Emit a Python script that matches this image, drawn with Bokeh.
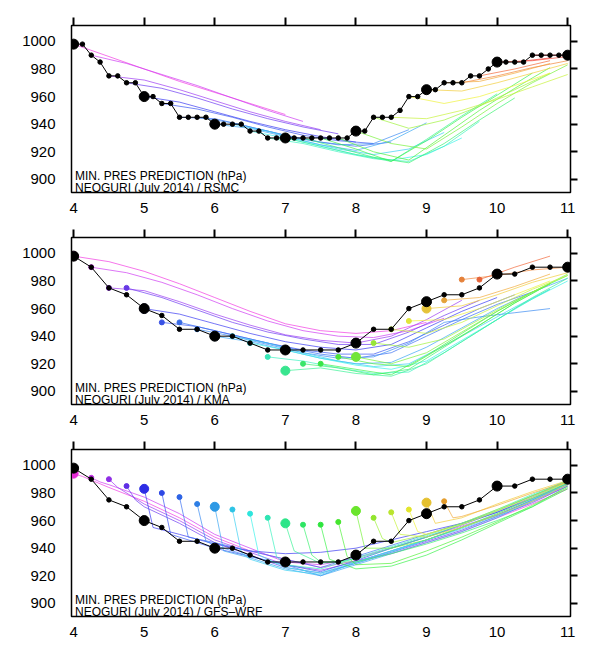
import colorsys
import numpy as np
from bokeh.plotting import figure
from bokeh.layouts import column
from bokeh.models import FixedTicker, LinearAxis, Label, Range1d
from bokeh.embed import file_html
from bokeh.resources import INLINE

# ---------------- data ----------------
x_ticks = [4, 5, 6, 7, 8, 9, 10, 11]
y_ticks = [900, 920, 940, 960, 980, 1000]

# best track, 3-hourly (RSMC)
rsmc_track_t = list(np.arange(4.0, 11.001, 0.125))
rsmc_track_p = [998, 998, 990, 985, 975, 975, 970, 970,
                960, 960, 955, 955, 945, 945, 945, 945,
                940, 940, 940, 940, 935, 935, 930, 930,
                930, 930, 930, 930, 930, 930, 930, 930,
                935, 935, 945, 945, 945, 950, 960, 960,
                965, 965, 970, 970, 970, 975, 975, 980,
                985, 985, 985, 985, 990, 990, 990, 990, 990]

# best track, 6-hourly (KMA / GFS-WRF panels)
track6_t = list(np.arange(4.0, 11.001, 0.25))
track6_p = [998, 990, 975, 970, 960, 955, 945, 945, 940, 940, 935, 930, 930,
            930, 930, 930, 935, 945, 945, 960, 965, 970, 970, 975, 985, 985,
            990, 990, 990]

# RSMC forecasts: init time, values every 12 h
rsmc_init = [4.0, 4.25, 4.5, 4.75, 5.0, 5.25, 5.5, 5.75, 6.0, 6.25, 6.5, 6.75,
             7.0, 7.25, 7.5, 7.75, 8.0, 8.25, 8.5, 8.75, 9.0, 9.25, 9.5, 9.75,
             10.0, 10.25, 10.5]
rsmc_fcst = [
    [998, 989, 980, 971, 963, 955, 947],
    [990, 984, 976, 968, 959, 950, 942],
    [975, 972, 965, 957, 949, 942, 936],
    [970, 966, 959, 951, 944, 938, 933],
    [960, 956, 949, 942, 936, 931, 927],
    [955, 951, 945, 938, 932, 928, 926],
    [945, 944, 938, 932, 927, 924, 927],
    [945, 941, 935, 929, 925, 926, 936],
    [940, 937, 931, 925, 921, 928, 941],
    [940, 935, 928, 922, 918, 922, 934],
    [935, 930, 924, 918, 914, 918, 930],
    [930, 926, 920, 915, 913, 924, 942],
    [930, 924, 918, 913, 929, 946, 962],
    [930, 923, 916, 912, 926, 943, 959],
    [930, 922, 913, 928, 945, 961, 977],
    [930, 920, 914, 932, 950, 966, 981],
    [935, 926, 922, 938, 955, 970, 983],
    [945, 937, 943, 953, 965, 977],
    [945, 944, 950, 958, 967, 976],
    [960, 955, 960, 968, 977],
    [965, 964, 970, 977, 984],
    [970, 971, 977, 984],
    [970, 975, 981, 986],
    [975, 980, 986],
    [985, 986, 989],
    [985, 988],
    [990, 990],
]

# KMA forecasts: init time, values every 12 h
kma_init = [4.0, 4.25, 4.5, 4.75, 5.0, 5.25, 5.5, 5.75, 6.0, 6.25, 6.5, 6.75,
            7.0, 7.25, 7.5, 7.75, 8.0, 8.25, 8.5, 8.75, 9.0, 9.25, 9.5, 9.75]
kma_fcst = [
    [998, 994, 987, 978, 968, 958, 949, 944, 942, 944, 950],
    [990, 986, 979, 970, 960, 951, 944, 940, 939, 944, 953],
    [975, 973, 965, 956, 948, 941, 937, 935, 940, 952, 966],
    [975, 968, 959, 950, 943, 938, 934, 934, 943, 955, 966],
    [960, 956, 949, 942, 936, 932, 930, 934, 946, 958, 968],
    [950, 947, 941, 935, 930, 927, 927, 936, 948, 960, 970],
    [950, 944, 938, 932, 927, 924, 928, 940, 952, 963, 972],
    [945, 940, 934, 928, 924, 925, 935, 950, 954, 957, 960],
    [940, 936, 930, 924, 920, 921, 932, 946, 960, 972, 982],
    [940, 935, 928, 922, 918, 920, 933, 947, 961, 974],
    [935, 930, 924, 919, 916, 922, 937, 952, 967, 980],
    [925, 922, 917, 913, 914, 928, 944, 960, 974],
    [915, 917, 913, 911, 920, 936, 952, 968, 982],
    [920, 917, 912, 916, 932, 948, 964, 978],
    [920, 916, 912, 926, 942, 958, 972, 984],
    [925, 920, 918, 933, 948, 964, 978],
    [925, 920, 928, 943, 958, 972, 985],
    [935, 932, 938, 952, 966, 978],
    [945, 942, 950, 962, 974, 984],
    [951, 952, 960, 970, 980],
    [960, 962, 970, 979, 986],
    [966, 968, 976, 985],
    [981, 984, 988, 990],
    [981, 990, 998],
]

# GFS-WRF forecasts: init time, initial value, value 3 h later, then 12-hourly
gfs_init = [4.0, 4.25, 4.5, 4.75, 5.0, 5.25, 5.5, 5.75, 6.0, 6.25, 6.5, 6.75,
            7.0, 7.25, 7.5, 7.75, 8.0, 8.25, 8.5, 8.75, 9.0, 9.25]
gfs_dot = [994, 991, 990, 985, 983, 980, 977, 972, 970, 968, 965, 962,
           958, 957, 957, 959, 967, 962, 966, 968, 973, 974]
gfs_drop = [992, 988, 984, 975, 955, 950, 948, 945, 938, 937, 935, 934,
            938, 935, 932, 934, 940, 947, 950, 952, 958, 962]
gfs_grid = list(np.arange(4.5, 11.001, 0.5))
gfs_fcst = [
    [984, 974, 962, 948, 938, 932, 926, 931, 936, 944, 952, 962, 972, 983],
    [986, 977, 965, 950, 940, 930, 928, 933, 940, 948, 956, 964, 974, 985],
    [972, 960, 946, 937, 928, 924, 930, 938, 946, 955, 964, 975, 986],
    [970, 958, 944, 935, 926, 922, 929, 937, 945, 953, 963, 973, 985],
    [950, 943, 938, 936, 937, 940, 946, 952, 958, 966, 976, 987],
    [948, 940, 934, 928, 923, 931, 940, 948, 957, 966, 977, 988],
    [944, 938, 932, 926, 934, 942, 950, 958, 967, 978, 988],
    [942, 934, 928, 920, 930, 938, 946, 955, 964, 975, 987],
    [933, 925, 920, 928, 936, 944, 952, 962, 974, 986],
    [932, 924, 921, 929, 937, 946, 954, 963, 975, 987],
    [926, 922, 930, 938, 946, 955, 965, 976, 988],
    [928, 925, 933, 941, 949, 958, 968, 979, 989],
    [929, 932, 940, 948, 957, 967, 978, 989],
    [930, 930, 936, 943, 951, 960, 970, 985],
    [925, 927, 935, 946, 958, 970, 983],
    [928, 929, 938, 948, 959, 971, 984],
    [940, 946, 955, 965, 976, 987],
    [944, 950, 958, 968, 978, 988],
    [948, 955, 964, 974, 986],
    [950, 957, 967, 977, 988],
    [962, 972, 981, 989],
    [963, 971, 980, 988],
]

title_line1 = "MIN. PRES PREDICTION (hPa)"
title_line2 = ["NEOGURI (July 2014) / RSMC",
               "NEOGURI (July 2014) / KMA",
               "NEOGURI (July 2014) / GFS\u2013WRF"]

# ---------------- style ----------------
FONT = "Liberation Sans"


def hue_color(t, s=0.85, v=0.9):
    h = np.interp(t, [4.0, 4.5, 5.0, 6.0, 7.0, 8.0, 9.0, 9.5, 10.0, 11.0],
                  [305, 272, 240, 205, 150, 100, 48, 25, 5, -10]) % 360
    r, g, b = colorsys.hsv_to_rgb(h / 360.0, s, v)
    return "#%02x%02x%02x" % (int(r * 255), int(g * 255), int(b * 255))


def make_fig(line2, extra_top=0):
    p = figure(width=582, height=212 + extra_top,
               x_range=Range1d(3.97, 11.04), y_range=Range1d(890.5, 1011.5),
               output_backend="svg", toolbar_location=None,
               x_axis_location=None, y_axis_location=None,
               min_border_left=71, min_border_right=12,
               min_border_top=17 + extra_top, min_border_bottom=28)
    p.xgrid.visible = False
    p.ygrid.visible = False
    p.outline_line_color = "black"
    p.outline_line_width = 1.5

    # labelled axes (no tick marks)
    bottom = LinearAxis(ticker=FixedTicker(ticks=x_ticks))
    bottom.major_tick_out = 0
    bottom.major_tick_in = 0
    bottom.minor_tick_out = 0
    bottom.minor_tick_in = 0
    bottom.major_label_standoff = 10
    bottom.major_label_text_font = FONT
    bottom.major_label_text_font_size = "15px"
    bottom.major_label_text_color = "black"
    p.add_layout(bottom, "below")

    left = LinearAxis(ticker=FixedTicker(ticks=y_ticks))
    left.major_tick_out = 0
    left.major_tick_in = 0
    left.minor_tick_out = 0
    left.minor_tick_in = 0
    left.major_label_standoff = 16
    left.major_label_text_font = FONT
    left.major_label_text_font_size = "15px"
    left.major_label_text_color = "black"
    p.add_layout(left, "left")

    # tick-only axes, top and right
    top = LinearAxis(ticker=FixedTicker(ticks=x_ticks))
    top.major_tick_out = 8
    top.major_tick_in = 0
    top.major_tick_line_color = "black"
    top.major_tick_line_width = 2
    top.major_label_text_font_size = "1px"
    top.major_label_overrides = {t: "" for t in x_ticks}
    p.add_layout(top, "above")

    right = LinearAxis(ticker=FixedTicker(ticks=y_ticks))
    right.major_tick_out = 7
    right.major_tick_in = 0
    right.major_tick_line_color = "black"
    right.major_tick_line_width = 2
    right.major_label_text_font_size = "1px"
    right.major_label_overrides = {t: "" for t in y_ticks}
    p.add_layout(right, "right")

    p.add_layout(Label(x=4.02, y=902.3, text=title_line1, text_font=FONT,
                       text_font_size="12px", text_baseline="alphabetic",
                       text_color="black"))
    p.add_layout(Label(x=4.02, y=893.4, text=line2, text_font=FONT,
                       text_font_size="12px", text_baseline="alphabetic",
                       text_color="black"))
    return p


def draw_track(p, t, pr):
    p.line(t, pr, line_color="black", line_width=1)
    big = [abs(x - round(x)) < 1e-6 for x in t]
    p.scatter([x for x, b in zip(t, big) if not b], [y for y, b in zip(pr, big) if not b],
              size=4.5, fill_color="black", line_color="black")
    p.scatter([x for x, b in zip(t, big) if b], [y for y, b in zip(pr, big) if b],
              size=10, fill_color="black", line_color="black")


# ---------------- panel 1: RSMC ----------------
p1 = make_fig(title_line2[0], extra_top=8)
xs, ys, cs = [], [], []
for t0, vals in zip(rsmc_init, rsmc_fcst):
    xs.append([t0 + 0.5 * k for k in range(len(vals))])
    ys.append(vals)
    cs.append(hue_color(t0, 0.75, 0.95))
p1.multi_line(xs, ys, line_color=cs, line_width=1, line_alpha=0.7)
draw_track(p1, rsmc_track_t, rsmc_track_p)

# ---------------- panel 2: KMA ----------------
p2 = make_fig(title_line2[1])
xs, ys, cs = [], [], []
for t0, vals in zip(kma_init, kma_fcst):
    xs.append([t0 + 0.5 * k for k in range(len(vals))])
    ys.append(vals)
    cs.append(hue_color(t0, 0.75, 0.95))
p2.multi_line(xs, ys, line_color=cs, line_width=1, line_alpha=0.7)
dot_c = [hue_color(t0, 0.75, 0.9) for t0 in kma_init]
dot_s = [9 if abs(t0 - round(t0)) < 1e-6 else 5 for t0 in kma_init]
p2.scatter(kma_init, [v[0] for v in kma_fcst], size=dot_s, fill_color=dot_c, line_color=dot_c)
draw_track(p2, track6_t, track6_p)

# ---------------- panel 3: GFS-WRF ----------------
p3 = make_fig(title_line2[2])
xs, ys, cs = [], [], []
for t0, d0, d1, vals in zip(gfs_init, gfs_dot, gfs_drop, gfs_fcst):
    g = [x for x in gfs_grid if x >= t0 + 0.25]
    xs.append([t0, t0 + 0.125] + g)
    ys.append([d0, d1] + vals)
    cs.append(hue_color(t0, 0.75, 0.95))
p3.multi_line(xs, ys, line_color=cs, line_width=1, line_alpha=0.7)
dot_c = [hue_color(t0, 0.8, 0.9) for t0 in gfs_init]
dot_s = [9 if abs(t0 - round(t0)) < 1e-6 else 5 for t0 in gfs_init]
p3.scatter(gfs_init, gfs_dot, size=dot_s, fill_color=dot_c, line_color=dot_c)
draw_track(p3, track6_t, track6_p)

layout = column(p1, p2, p3, spacing=0)
open("out.html", "w").write(file_html(layout, INLINE))
